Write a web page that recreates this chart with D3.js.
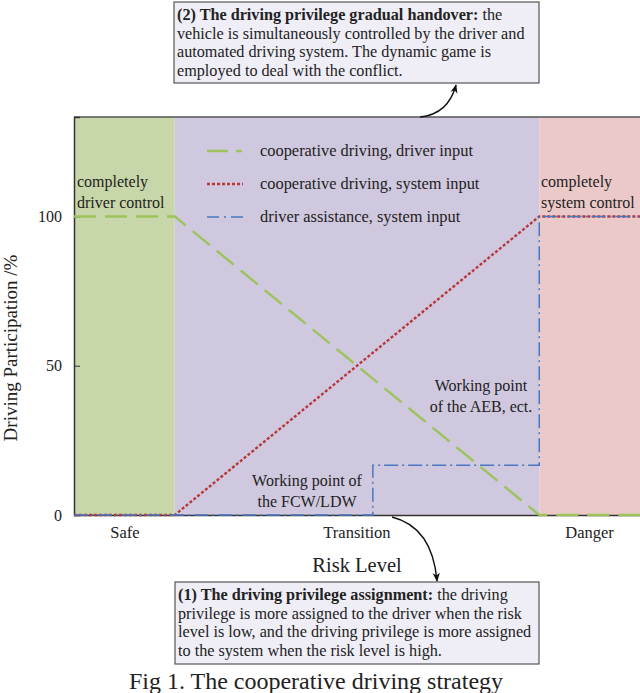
<!DOCTYPE html>
<html>
<head>
<meta charset="utf-8">
<script src="https://cdn.jsdelivr.net/npm/d3@7"></script>
<style>
body { margin: 0; background: white; }
text { font-family: "Liberation Serif", "DejaVu Serif", serif; fill: #222; }
</style>
</head>
<body>
<div id="chart"></div>
<script>
// Risk level axis runs 0..100, participation in %
var zones = [
    { name: "safe", x0: 0, x1: 17.8, color: "#c8d7a9" },
    { name: "transition", x0: 17.8, x1: 82.2, color: "#d0c8df" },
    { name: "danger", x0: 82.2, x1: 100, color: "#ecc9c9" }
]
var riskTicks = [8.9, 49.9, 91]
var riskLabels = ["Safe", "Transition", "Danger"]
var yTicks = [0, 50, 100]

var driverInput = [[0, 100], [17.8, 100], [82.2, 0], [100, 0]]
var systemInput = [[0, 0], [17.8, 0], [82.2, 100], [100, 100]]
var assistInput = [[0, 0], [52.8, 0], [52.8, 16.7], [82.2, 16.7], [82.2, 100], [100, 100]]

var legendItems = ["cooperative driving, driver input", "cooperative driving, system input", "driver assistance, system input"]

var width = 640, height = 693
var margin = { left: 74, right: 0, top: 117, bottom: 178 }

var svg = d3.select("#chart").append("svg")
    .attr("width", width)
    .attr("height", height)

var defs = svg.append("defs")
defs.append("marker")
    .attr("id", "arrow")
    .attr("viewBox", "0 0 10 10")
    .attr("refX", 9).attr("refY", 5)
    .attr("markerWidth", 9).attr("markerHeight", 9)
    .attr("markerUnits", "userSpaceOnUse")
    .attr("orient", "auto")
    .append("path")
    .attr("d", "M0,1 L10,5 L0,9 L3,5 z")
    .style("fill", "#111")

var xScale = d3.scaleLinear()
    .domain([0, 100])
    .range([margin.left, width - margin.right])
var yScale = d3.scaleLinear()
    .domain([0, 133.3])
    .range([height - margin.bottom, margin.top])

// zone backgrounds
svg.selectAll("rect.zone")
    .data(zones)
    .enter()
    .append("rect")
    .attr("class", "zone")
    .attr("x", function (d) { return xScale(d.x0) })
    .attr("y", yScale(133.3))
    .attr("width", function (d) { return xScale(d.x1) - xScale(d.x0) })
    .attr("height", yScale(0) - yScale(133.3))
    .style("fill", function (d) { return d.color })

// top frame line
svg.append("line")
    .attr("x1", xScale(0)).attr("x2", xScale(100))
    .attr("y1", yScale(133.3)).attr("y2", yScale(133.3))
    .style("stroke", "#555").style("stroke-width", 1.5)

// Y axis
svg.append("g")
    .attr("transform", "translate(" + xScale(0) + ",0)")
    .call(d3.axisLeft(yScale).tickValues(yTicks).tickSize(-6).tickPadding(12))
    .call(function (g) {
        g.select(".domain").style("stroke", "#333").style("stroke-width", 1.5)
        g.selectAll(".tick line").style("stroke", "#333")
        g.selectAll(".tick text").style("font-size", "16px").style("font-family", "Liberation Serif").style("fill", "#222")
    })

// X axis
svg.append("g")
    .attr("transform", "translate(0," + yScale(0) + ")")
    .call(d3.axisBottom(xScale).tickValues(riskTicks).tickFormat(function (d, i) { return riskLabels[i] }).tickSize(0).tickPadding(11))
    .call(function (g) {
        g.select(".domain").style("stroke", "#333").style("stroke-width", 1.5)
        g.selectAll(".tick text").style("font-size", "16.5px").style("font-family", "Liberation Serif").style("fill", "#222")
    })

var line = d3.line()
    .x(function (d) { return xScale(d[0]) })
    .y(function (d) { return yScale(d[1]) })

var styles = [
    { color: "#9cc35c", dash: "22,9", w: 2.4 },
    { color: "#b5383a", dash: "3,2", w: 2.4 },
    { color: "#4877c2", dash: "14,4,2,4", w: 1.5 }
]

svg.append("path").datum(driverInput)
    .attr("d", line)
    .style("fill", "none").style("stroke", styles[0].color)
    .style("stroke-width", styles[0].w).style("stroke-dasharray", styles[0].dash)
svg.append("path").datum(systemInput)
    .attr("d", line)
    .style("fill", "none").style("stroke", styles[1].color)
    .style("stroke-width", styles[1].w).style("stroke-dasharray", styles[1].dash)
svg.append("path").datum(assistInput)
    .attr("d", line)
    .style("fill", "none").style("stroke", styles[2].color)
    .style("stroke-width", styles[2].w).style("stroke-dasharray", styles[2].dash)

// legend
var legend = svg.append("g")
legend.selectAll("line")
    .data(legendItems)
    .enter()
    .append("line")
    .attr("x1", 207).attr("x2", 243)
    .attr("y1", function (d, i) { return 151 + i * 33 })
    .attr("y2", function (d, i) { return 151 + i * 33 })
    .style("stroke", function (d, i) { return styles[i].color })
    .style("stroke-width", function (d, i) { return styles[i].w })
    .style("stroke-dasharray", function (d, i) { return i == 0 ? "21,8,6,20" : i == 1 ? "3,2" : "12,5,2,5" })
legend.selectAll("text")
    .data(legendItems)
    .enter()
    .append("text")
    .attr("x", 260)
    .attr("y", function (d, i) { return 156 + i * 33 })
    .style("font-size", "16.4px")
    .text(function (d) { return d })

// region notes
function multiText(x, y, lines, anchor, size) {
    var t = svg.append("text")
        .attr("x", x).attr("y", y)
        .attr("text-anchor", anchor)
        .style("font-size", size + "px")
    lines.forEach(function (l, i) {
        t.append("tspan").attr("x", x).attr("dy", i == 0 ? 0 : 20.5).text(l)
    })
    return t
}
multiText(77, 187, ["completely", "driver control"], "start", 16)
multiText(541, 187, ["completely", "system control"], "start", 16)
multiText(481, 391, ["Working point", "of the AEB, ect."], "middle", 16)
multiText(307, 486, ["Working point of", "the FCW/LDW"], "middle", 16)

// axis titles
svg.append("text")
    .attr("transform", "translate(17," + 348 + ") rotate(-90)")
    .attr("text-anchor", "middle")
    .style("font-size", "19px")
    .text("Driving Participation /%")
svg.append("text")
    .attr("x", 357).attr("y", 572)
    .attr("text-anchor", "middle")
    .style("font-size", "20.5px")
    .text("Risk Level")

// annotation boxes
function noteBox(x, y, w, h, bold, lines) {
    svg.append("rect")
        .attr("x", x).attr("y", y).attr("width", w).attr("height", h)
        .style("fill", "#efeef6").style("stroke", "#555").style("stroke-width", 1.2)
    var t = svg.append("text").style("font-size", "16.2px")
    lines.forEach(function (l, i) {
        var ln = t.append("tspan").attr("x", x + 3).attr("y", y + 18 + i * 18.7)
        if (i == 0) {
            ln.append("tspan").style("font-weight", "bold").text(bold)
        }
        ln.append("tspan").text(l)
    })
}
noteBox(174, 2, 365, 81, "(2) The driving privilege gradual handover:",
    [" the", "vehicle is simultaneously controlled by the driver and",
        "automated driving system. The dynamic game is", "employed to deal with the conflict."])
noteBox(175, 582, 364, 82, "(1) The driving privilege assignment:",
    [" the driving", "privilege is more assigned to the driver when the risk",
        "level is low, and the driving privilege is more assigned", "to the  system when the risk level is high."])

// arrows
svg.append("path")
    .attr("d", "M420,117 C440,115 451,104 456,85")
    .style("fill", "none").style("stroke", "#111").style("stroke-width", 1.4)
    .attr("marker-end", "url(#arrow)")
svg.append("path")
    .attr("d", "M392,517 C420,524 434,546 437,581")
    .style("fill", "none").style("stroke", "#111").style("stroke-width", 1.4)
    .attr("marker-end", "url(#arrow)")

// caption
svg.append("text")
    .attr("x", 316).attr("y", 689)
    .attr("text-anchor", "middle")
    .style("font-size", "24px")
    .text("Fig 1. The cooperative driving strategy")
</script>
</body>
</html>
